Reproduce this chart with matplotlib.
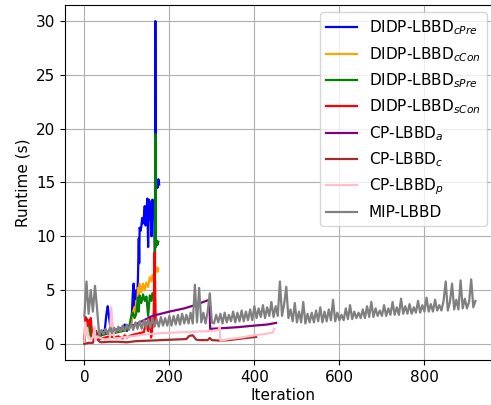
import numpy as np
import matplotlib
matplotlib.use("Agg")
import matplotlib.pyplot as plt

# ---- data ----
cpre_it = [0,3,6,9,12,15,20,30,40,48,52,55,58,62,70,80,90,95,100,105,110,112,114,116,118,120,122,124,126,128,129,130,132,134,136,138,140,142,144,146,148,150,152,154,156,158,160,162,164,166,167,168,170,172,174,176]
cpre_v = [0.2,1.5,2.3,1.2,1.8,0.8,0.6,0.9,1.0,1.3,2.8,3.5,2.5,1.4,1.2,1.3,1.4,1.8,1.2,1.6,1.9,3.0,4.8,5.6,3.5,2.8,5.0,4.2,6.0,9.8,7.5,10.8,10.5,10.9,11.7,11.2,11.8,12.8,11.0,12.2,13.5,9.0,13.4,11.5,13.2,10.0,13.4,12.0,13.3,8.0,30.0,14.5,15.2,14.5,15.3,14.8]

ccon_it = [0,3,6,9,12,15,20,30,40,50,60,70,80,90,100,105,110,114,118,120,122,124,126,128,130,134,138,142,146,150,154,158,160,164,166,168,170,172,174]
ccon_v = [0.2,1.2,2.0,1.5,1.2,0.7,0.5,0.7,0.8,1.0,1.0,1.1,1.2,1.3,1.4,1.6,2.0,2.9,3.4,2.6,4.0,3.0,5.2,4.5,5.6,4.8,5.6,5.0,5.7,5.3,6.2,5.8,6.4,5.9,6.5,6.8,7.1,6.7,7.0]

spre_it = [0,3,6,9,12,15,20,30,40,50,60,70,80,90,100,105,110,114,118,122,126,128,130,134,138,142,146,150,154,158,160,164,166,167,168,170,172,174]
spre_v = [0.1,1.6,2.2,2.0,1.6,0.8,0.5,0.6,0.8,0.9,1.0,1.0,1.1,1.2,1.3,1.5,2.5,2.9,2.4,2.8,4.3,3.0,4.5,3.8,4.6,4.0,4.4,2.6,4.5,4.0,4.7,4.2,4.8,19.5,9.0,9.6,9.2,9.5]

scon_it = [0,3,6,9,12,15,18,22,30,40,50,60,70,80,90,95,100,110,120,130,140,145,150,155,157,160,163,165,166,168]
scon_v = [0.3,2.5,1.5,2.2,1.8,2.4,1.0,0.5,0.4,0.5,0.6,0.7,0.6,0.7,0.5,0.8,0.6,0.8,0.9,1.0,1.1,2.0,1.2,2.5,0.6,1.5,2.2,8.5,6.0,2.0]

cpa_it = [35,60,90,120,130,160,200,235,260,280,294,296,320,360,400,430,451]
cpa_v = [0.9,1.2,1.5,1.8,2.0,2.6,3.0,3.3,3.6,3.9,4.1,1.4,1.45,1.55,1.7,1.8,1.95]

cpc_it = [0,10,20,28,32,36,40,60,80,100,120,150,180,210,240,247,255,263,270,290,295,300,320,340,360,380,404]
cpc_v = [0.0,0.1,0.1,1.2,0.4,0.2,0.15,0.2,0.2,0.15,0.25,0.3,0.35,0.4,0.45,0.75,0.8,0.4,0.35,0.35,0.55,0.35,0.3,0.35,0.45,0.55,0.65]

cpp_it = [0,2,4,6,10,15,20,24,26,30,40,50,60,63,66,70,75,90,110,130,150,180,210,240,270,300,316,318,320,340,370,400,430,443,447]
cpp_v = [0.2,2.0,0.8,1.5,0.5,0.4,0.6,1.5,0.3,0.7,0.5,0.4,0.5,3.4,2.0,0.6,0.5,0.6,0.7,0.8,0.9,1.0,1.05,1.1,1.15,1.2,1.3,1.6,0.3,0.45,0.6,0.8,0.95,1.05,1.4]

mip_step = 5
mip_v = [2.6,5.8,2.8,5.0,3.0,5.4,3.2,
         0.8,1.3,0.9,1.4,0.9,1.5,1.0,1.5,1.1,1.6,1.1,1.7,1.2,1.8,
         1.3,1.9,1.3,2.0,1.4,2.1,1.4,2.2,1.5,2.3,1.5,2.4,1.6,2.3,1.6,2.5,1.7,2.4,1.7,2.6,
         1.7,2.6,1.8,2.7,1.8,2.8,1.9,2.7,1.9,2.9,1.9,5.5,2.0,5.2,2.0,2.9,1.9,3.0,4.7,2.0,
         1.9,2.7,2.0,2.8,1.9,2.9,2.0,2.7,2.1,3.0,2.0,2.9,2.1,3.1,2.1,3.0,2.2,3.2,2.2,3.5,
         2.4,3.3,2.5,3.6,2.4,3.4,2.6,3.9,2.5,3.5,2.6,5.8,2.6,3.7,5.3,2.4,3.2,2.1,3.8,2.0,
         3.0,2.0,3.9,1.9,2.8,2.0,2.9,2.0,3.1,2.1,3.4,2.0,3.0,2.1,3.2,2.2,4.1,2.1,2.9,2.2,
         2.7,2.2,3.3,2.3,3.6,2.3,3.0,2.4,2.9,2.4,3.2,2.4,3.5,2.5,3.9,2.5,3.3,2.6,3.1,2.6,
         3.6,2.6,3.3,2.7,3.9,2.7,3.4,2.7,4.2,2.8,3.5,2.8,3.7,2.8,3.4,2.9,4.0,2.9,3.6,3.0,
         4.3,3.0,3.7,3.0,4.1,3.1,3.6,3.1,4.0,5.8,3.1,3.9,5.6,3.2,4.1,3.2,5.9,3.3,4.2,3.3,3.9,6.0,3.4,4.0]
mip_it = np.arange(len(mip_v)) * mip_step

series = [
    (cpre_it, cpre_v, 'blue', r'DIDP-LBBD$_{cPre}$'),
    (ccon_it, ccon_v, 'orange', r'DIDP-LBBD$_{cCon}$'),
    (spre_it, spre_v, 'green', r'DIDP-LBBD$_{sPre}$'),
    (scon_it, scon_v, 'red', r'DIDP-LBBD$_{sCon}$'),
    (cpa_it, cpa_v, 'purple', r'CP-LBBD$_{a}$'),
    (cpc_it, cpc_v, 'brown', r'CP-LBBD$_{c}$'),
    (cpp_it, cpp_v, 'pink', r'CP-LBBD$_{p}$'),
    (mip_it, mip_v, 'gray', 'MIP-LBBD'),
]

plt.rcParams['font.size'] = 11
fig = plt.figure(figsize=(4.91, 4.05), dpi=100)
ax = fig.add_axes([0.132, 0.111, 0.89, 0.877])
for it, v, c, lab in series:
    ax.plot(it, v, color=c, label=lab, linewidth=1.6)
ax.set_xlim(-46, 982)
ax.set_xlabel('Iteration', labelpad=2)
ax.set_ylabel('Runtime (s)')
ax.grid(True)
ax.legend(loc='upper right', bbox_to_anchor=(0.983, 1.0))
fig.savefig('out.png', dpi=100)
